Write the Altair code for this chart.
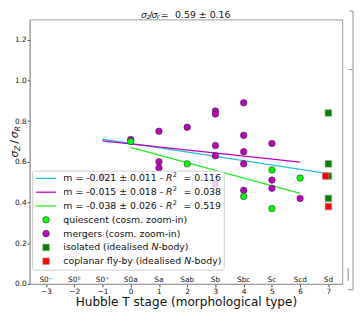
import altair as alt
import pandas as pd

FONT = "DejaVu Sans"

# ---------------- data ----------------
t_stage = [-3, -2, -1, 0, 1, 2, 3, 4, 5, 6, 7]
t_names = ["S0\u207b", "S0\u2070", "S0\u207a", "S0a", "Sa", "Sab", "Sb", "Sbc", "Sc", "Scd", "Sd"]
y_ticks = [0.0, 0.2, 0.4, 0.6, 0.8, 1.0, 1.2]

quiescent_t = [0, 2, 4, 5, 5, 6]
quiescent_v = [0.70, 0.59, 0.43, 0.56, 0.37, 0.52]

mergers_t = [-1, 0, 1, 1, 1, 2, 3, 3, 3, 3, 3, 4, 4, 4, 4, 4, 5, 5, 5, 6]
mergers_v = [0.53, 0.71, 0.75, 0.60, 0.57, 0.77, 0.85, 0.835, 0.68, 0.63, 0.49,
             0.89, 0.73, 0.65, 0.59, 0.46, 0.69, 0.51, 0.47, 0.42]

isolated_t = [7, 7, 7, 7]
isolated_v = [0.84, 0.59, 0.53, 0.42]

flyby_t = [6.9, 7]
flyby_v = [0.53, 0.38]

fit_labels = ["m = -0.021 \u00b1 0.011 - ", "m = -0.015 \u00b1 0.018 - ", "m = -0.038 \u00b1 0.026 - "]
fit_r2 = ["0.116", "0.038", "0.519"]
fit_colors = ["#1fc3cf", "#bf00bf", "#22ee22"]
fit_t0 = [-1, -1, 0]
fit_t1 = [7, 6, 6]
fit_v0 = [0.711, 0.703, 0.671]
fit_v1 = [0.542, 0.599, 0.445]

title_value = "0.59 \u00b1 0.16"
x_title = "Hubble T stage (morphological type)"

# ---------------- chart ----------------
W, H = 318, 269
xs = alt.Scale(domain=[-3.58, 7.49], nice=False, zero=False)
ys = alt.Scale(domain=[0, 1.3], nice=False, zero=False)
xaxis = alt.Axis(values=t_stage, format="d", title=None, tickSize=3, labelPadding=1,
                 labelFlush=False, labelOverlap=False, grid=False)
yaxis = alt.Axis(values=y_ticks, format=".1f", title=None, tickSize=2.5, labelPadding=1,
                 labelFlush=False, labelOverlap=False, grid=False)
one = pd.DataFrame({"k": [0]})


def txt(s, x, y, size=9.5, style="normal", align="left", baseline="middle", angle=0, color="#111"):
    kw = dict(text=s, font=FONT, fontSize=size, fontStyle=style, align=align,
              baseline=baseline, color=color)
    if angle:
        kw["angle"] = angle
    return alt.Chart(one).mark_text(**kw).encode(x=alt.value(x), y=alt.value(y))


def rule(x, y, x2=None, y2=None, color="#8a8a8a", width=1):
    enc = dict(x=alt.value(x), y=alt.value(y))
    if x2 is not None:
        enc["x2"] = alt.value(x2)
    if y2 is not None:
        enc["y2"] = alt.value(y2)
    return alt.Chart(one).mark_rule(color=color, strokeWidth=width).encode(**enc)


fits = pd.DataFrame({"t0": fit_t0, "t1": fit_t1, "v0": fit_v0, "v1": fit_v1,
                     "c": fit_colors})
fit_layer = alt.Chart(fits).mark_rule(strokeWidth=1.3).encode(
    x=alt.X("t0:Q", scale=xs, axis=xaxis),
    x2="t1:Q",
    y=alt.Y("v0:Q", scale=ys, axis=yaxis),
    y2="v1:Q",
    color=alt.Color("c:N", scale=None, legend=None),
)


def pts(tv, vv, mark, color, size, stroke):
    df = pd.DataFrame({"t": tv, "v": vv})
    if mark == "circle":
        m = alt.Chart(df).mark_circle(size=size, color=color, opacity=1, stroke=stroke, strokeWidth=0.6)
    else:
        m = alt.Chart(df).mark_square(size=size, color=color, opacity=1, stroke=stroke, strokeWidth=0.6)
    return m.encode(x=alt.X("t:Q", scale=xs, axis=xaxis), y=alt.Y("v:Q", scale=ys, axis=yaxis))


CS, SS = 44, 46
layers = [fit_layer,
          pts(mergers_t, mergers_v, "circle", "#bf00bf", CS, "#333333"),
          pts(quiescent_t, quiescent_v, "circle", "#00ff00", CS, "#333333"),
          pts(isolated_t, isolated_v, "square", "#008000", SS, "#aaaaaa"),
          pts(flyby_t, flyby_v, "square", "#ff0000", SS, "#aaaaaa")]

# morphological names above the axis
names_df = pd.DataFrame({"t": t_stage, "n": t_names})
layers.append(alt.Chart(names_df).mark_text(font=FONT, fontSize=7.5, color="#111", baseline="middle").encode(
    x=alt.X("t:Q", scale=xs, axis=xaxis), y=alt.value(264.7), text="n:N"))

# legend box
layers.append(alt.Chart(one).mark_rect(fill="white", fillOpacity=0.8, stroke="#cccccc",
                                       strokeWidth=1, cornerRadius=2).encode(
    x=alt.value(3), x2=alt.value(198), y=alt.value(154.3), y2=alt.value(255)))

rows = [161.7 + 14.05 * i for i in range(7)]
LX = 34.3
for i in range(3):
    yy = rows[i]
    layers.append(rule(6.7, yy, x2=26.7, color=fit_colors[i], width=1.3))
    layers.append(txt(fit_labels[i], LX, yy))
    layers.append(txt("R", LX + 104.5, yy, style="italic"))
    layers.append(txt("2", LX + 111.3, yy - 3.3, size=6.7))
    layers.append(txt("= " + fit_r2[i], LX + 122.2, yy))


def legmark(mark, color, yy, stroke, size):
    if mark == "circle":
        m = alt.Chart(one).mark_circle(size=size, color=color, opacity=1, stroke=stroke, strokeWidth=0.6)
    else:
        m = alt.Chart(one).mark_square(size=size, color=color, opacity=1, stroke=stroke, strokeWidth=0.6)
    return m.encode(x=alt.value(16.7), y=alt.value(yy))


layers.append(legmark("circle", "#00ff00", rows[3], "#333333", CS))
layers.append(txt("quiescent (cosm. zoom-in)", LX, rows[3]))
layers.append(legmark("circle", "#bf00bf", rows[4], "#333333", CS))
layers.append(txt("mergers (cosm. zoom-in)", LX, rows[4]))
layers.append(legmark("square", "#008000", rows[5], "#aaaaaa", SS))
layers.append(txt("isolated (idealised ", LX, rows[5]))
layers.append(txt("N", LX + 89.6, rows[5], style="italic"))
layers.append(txt("-body)", LX + 96.7, rows[5]))
layers.append(legmark("square", "#ff0000", rows[6], "#aaaaaa", SS))
layers.append(txt("coplanar fly-by (idealised ", LX, rows[6]))
layers.append(txt("N", LX + 123.0, rows[6], style="italic"))
layers.append(txt("-body)", LX + 130.1, rows[6]))

# title  sigma_z / sigma_r = value
layers += [
    txt("\u03c3", 113.3, -1.5, style="italic", baseline="alphabetic"),
    txt("z", 119.0, -0.2, size=6.7, style="italic", baseline="alphabetic"),
    txt("/", 121.7, -1.5, baseline="alphabetic"),
    txt("\u03c3", 124.0, -1.5, style="italic", baseline="alphabetic"),
    txt("r", 129.3, -0.2, size=6.7, style="italic", baseline="alphabetic"),
    txt("=", 133.3, -1.5, baseline="alphabetic"),
    txt(title_value, 148.0, -1.5, baseline="alphabetic"),
]

# y title  sigma_Z / sigma_R (rotated, reads bottom to top)
YB, YS = -11.7, -9.4
layers += [
    txt("\u03c3", YB, 140.5, size=11, style="italic", baseline="alphabetic", angle=270),
    txt("Z", YS, 133.8, size=7.8, style="italic", baseline="alphabetic", angle=270),
    txt("/", YB, 126.5, size=11, baseline="alphabetic", angle=270),
    txt("\u03c3", YB, 120.8, size=11, style="italic", baseline="alphabetic", angle=270),
    txt("R", YS, 114.1, size=7.8, style="italic", baseline="alphabetic", angle=270),
]

# x title
layers.append(txt(x_title, 159.5, 287.6, size=12.3, align="center"))

# partial bracket at the right edge
layers += [
    rule(329, -8.5, y2=275),
    rule(325, -8.5, x2=329),
    rule(325, 51, x2=328),
    rule(324, 275, x2=329),
    rule(324, 253, y2=266),
]

chart = alt.layer(*layers).properties(
    width=W, height=H,
    autosize=alt.AutoSizeParams(type="none"),
    padding={"left": 22, "top": 9, "right": 14, "bottom": 26},
).configure_view(stroke="#9a9a9a", strokeWidth=1).configure_axis(
    domainColor="#9a9a9a", tickColor="#444444", labelColor="#111111",
    labelFont=FONT, labelFontSize=7.5, grid=False)

chart.save("out.html", embed_options={"renderer": "svg", "actions": False})
